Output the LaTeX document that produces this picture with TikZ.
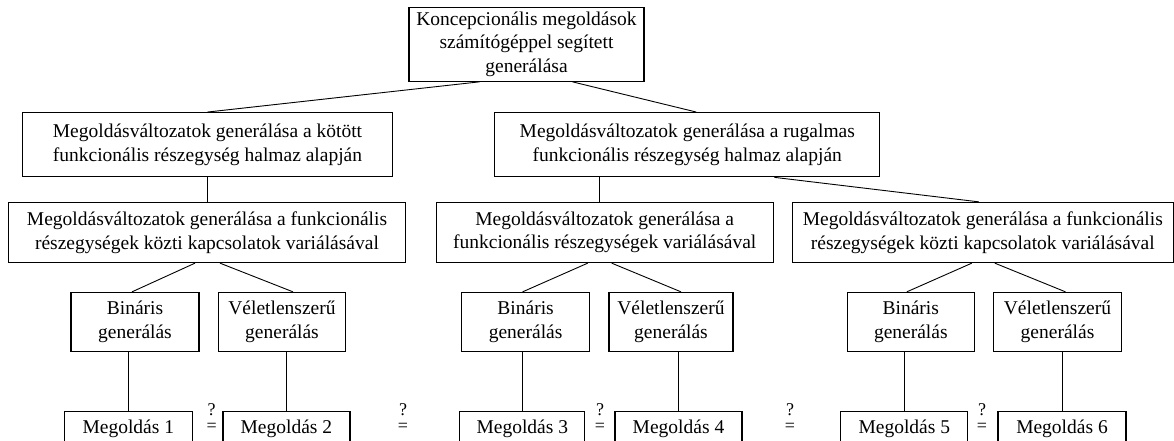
\documentclass[tikz,border=0pt]{standalone}
\usepackage{fontspec}
\setmainfont{Liberation Serif}
\usepackage{tikz}

\begin{document}
\begin{tikzpicture}[x=1pt, y=-1pt,
    box/.style={draw, line width=1.3pt, inner sep=0pt, align=center, font=\fontsize{19.5}{23.5}\selectfont},
    conn/.style={line width=0.9pt},
    eqmark/.style={inner sep=0pt, align=center, font=\fontsize{18}{16}\selectfont}]
    \useasboundingbox (0,0) rectangle (1174,441);
    % felso szint
    \node[box, minimum width=235pt, minimum height=74pt] (top) at (526.5,44.2) {Koncepcionális megoldások\\számítógéppel segített\\generálása};
    \node[box, minimum width=370pt, minimum height=64pt] (kotott) at (207.5,144.7) {Megoldásváltozatok generálása a kötött\\funkcionális részegység halmaz alapján};
    \node[box, minimum width=385pt, minimum height=64pt] (rugalmas) at (687.3,144.7) {Megoldásváltozatok generálása a rugalmas\\funkcionális részegység halmaz alapján};
    % harmadik szint
    \node[box, minimum width=397pt, minimum height=60pt] (kapcsA) at (207,232.5) {Megoldásváltozatok generálása a funkcionális\\részegységek közti kapcsolatok variálásával};
    \node[box, minimum width=337pt, minimum height=60pt] (variB) at (604.7,232.5) {Megoldásváltozatok generálása a\\funkcionális részegységek variálásával};
    \node[box, minimum width=381pt, minimum height=60pt] (kapcsC) at (982.8,232.5) {Megoldásváltozatok generálása a funkcionális\\részegységek közti kapcsolatok variálásával};
    % generalasi modok
    \node[box, minimum width=128pt, minimum height=59pt] (bin1) at (135,322) {Bináris\\generálás};
    \node[box, minimum width=127pt, minimum height=59pt] (vel1) at (282,322) {Véletlenszerű\\generálás};
    \node[box, minimum width=128pt, minimum height=59pt] (bin2) at (525.6,322) {Bináris\\generálás};
    \node[box, minimum width=124pt, minimum height=59pt] (vel2) at (671,322) {Véletlenszerű\\generálás};
    \node[box, minimum width=127pt, minimum height=59pt] (bin3) at (910.8,322) {Bináris\\generálás};
    \node[box, minimum width=128pt, minimum height=59pt] (vel3) at (1057.5,322) {Véletlenszerű\\generálás};
    % megoldasok
    \node[box, minimum width=128pt, minimum height=36pt] (m1) at (128.3,429.3) {Megoldás 1};
    \node[box, minimum width=127pt, minimum height=36pt] (m2) at (286.4,429.3) {Megoldás 2};
    \node[box, minimum width=125pt, minimum height=36pt] (m3) at (522.3,429.3) {Megoldás 3};
    \node[box, minimum width=127pt, minimum height=36pt] (m4) at (678.5,429.3) {Megoldás 4};
    \node[box, minimum width=127pt, minimum height=36pt] (m5) at (904.3,429.3) {Megoldás 5};
    \node[box, minimum width=128pt, minimum height=36pt] (m6) at (1062,429.3) {Megoldás 6};
    \node[eqmark] (eq12) at (211.7,418) {?\\=};
    \node[eqmark] (eq23) at (403,418) {?\\=};
    \node[eqmark] (eq34) at (600,418) {?\\=};
    \node[eqmark] (eq45) at (790,418) {?\\=};
    \node[eqmark] (eq56) at (982,418) {?\\=};
    % osszekotesek
    \draw[conn] ([xshift=-47pt]top.south) -- (kotott.north);
    \draw[conn] ([xshift=46pt]top.south) -- ([xshift=9pt]rugalmas.north);
    \draw[conn] (kotott.south) -- (kotott.south |- kapcsA.north);
    \draw[conn] ([xshift=-5pt]variB.north) -- ([xshift=-5pt]variB.north |- rugalmas.south);
    \draw[conn] ([xshift=87pt]rugalmas.south) -- ([xshift=-4pt]kapcsC.north);
    \draw[conn] ([xshift=-12pt]kapcsA.south) -- ([xshift=-3pt]bin1.north);
    \draw[conn] ([xshift=13pt]kapcsA.south) -- ([xshift=11pt]vel1.north);
    \draw[conn] ([xshift=-17pt]variB.south) -- ([xshift=-3pt]bin2.north);
    \draw[conn] ([xshift=7pt]variB.south) -- ([xshift=10pt]vel2.north);
    \draw[conn] ([xshift=-11pt]kapcsC.south) -- ([xshift=-4pt]bin3.north);
    \draw[conn] ([xshift=12pt]kapcsC.south) -- ([xshift=8pt]vel3.north);
    \draw[conn] (m1.north) -- (m1.north |- bin1.south);
    \draw[conn] (m2.north) -- (m2.north |- vel1.south);
    \draw[conn] (m3.north) -- (m3.north |- bin2.south);
    \draw[conn] (m4.north) -- (m4.north |- vel2.south);
    \draw[conn] (m5.north) -- (m5.north |- bin3.south);
    \draw[conn] (m6.north) -- (m6.north |- vel3.south);
\end{tikzpicture}
\end{document}
